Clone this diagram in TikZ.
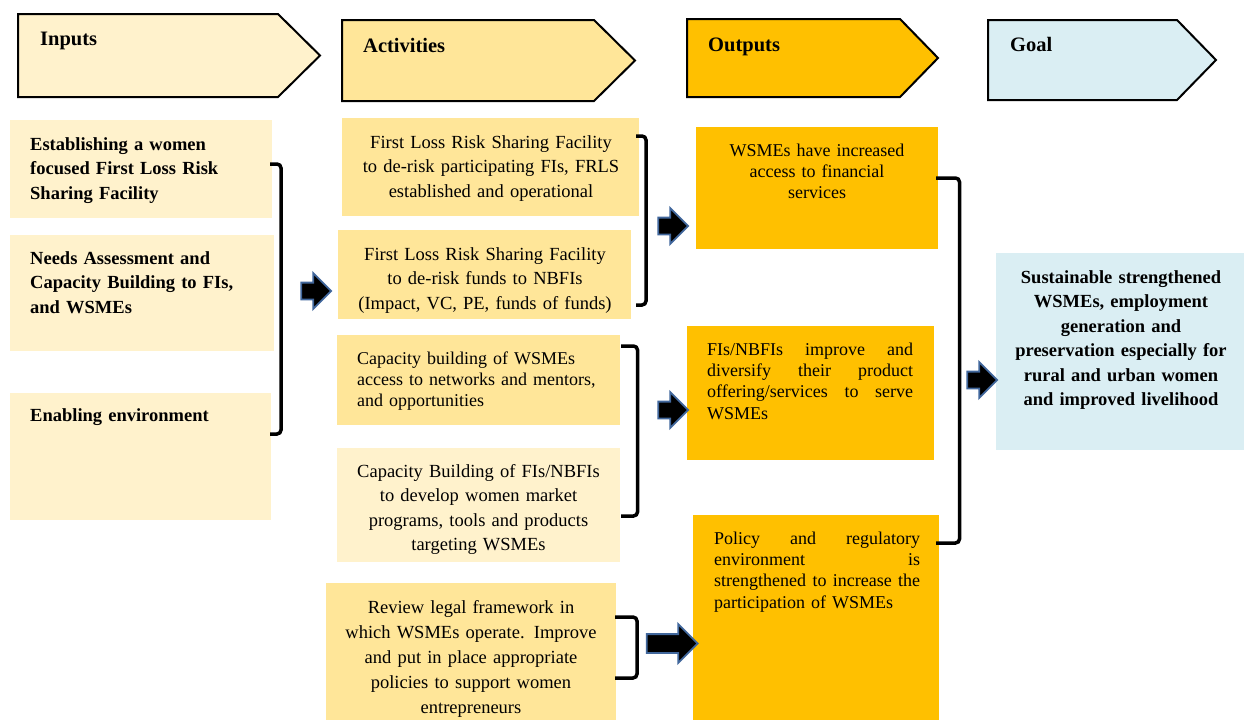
\documentclass[tikz,border=0pt]{standalone}
\usepackage{fontspec}
\setmainfont{Liberation Serif}
\usepackage{tikz}
\usetikzlibrary{shapes.arrows}

\definecolor{inputfill}{HTML}{FFF2CC}
\definecolor{actfill}{HTML}{FFE699}
\definecolor{outfill}{HTML}{FFC000}
\definecolor{goalfill}{HTML}{DAEEF3}
\definecolor{arrowedge}{HTML}{41679C}

\newcommand{\fullline}[1]{\leavevmode\hbox to 206pt{#1}}

\tikzset{
  header/.style={draw=black, line width=2pt, line join=miter},
  headtext/.style={anchor=base west, inner sep=0pt, font=\fontsize{20.5}{24}\selectfont\bfseries},
  box/.style={anchor=north west, inner sep=0pt, outer sep=0pt},
  boxtext/.style={inner sep=0pt, font=\fontsize{18.5}{24.5}\selectfont},
  boldtext/.style={inner sep=0pt, font=\fontsize{18.5}{24.5}\selectfont\bfseries},
  tighttext/.style={inner sep=0pt, font=\fontsize{18}{21.4}\selectfont},
  bracket/.style={line width=3.5pt, rounded corners=4pt},
  blockarrow/.style={single arrow, fill=black, draw=arrowedge, line width=1.8pt,
    inner xsep=0pt, inner ysep=7.5pt, single arrow head extend=9.5pt, minimum height=30pt}
}

\begin{document}
\begin{tikzpicture}[x=1pt,y=-1pt]
\useasboundingbox (0,0) rectangle (1244,720);

\draw[header, fill=inputfill] (18,14) -- (278,14) -- (320,55.5) -- (278,97) -- (18,97) -- cycle;
\draw[header, fill=actfill] (342,20) -- (594,20) -- (635,60.5) -- (594,101) -- (342,101) -- cycle;
\draw[header, fill=outfill] (687,19) -- (900,19) -- (938,58) -- (900,97) -- (687,97) -- cycle;
\draw[header, fill=goalfill] (988,20) -- (1177,20) -- (1216,60) -- (1177,100) -- (988,100) -- cycle;
\node[headtext] (hinputs) at (40,45) {Inputs};
\node[headtext] (hactivities) at (363,52) {Activities};
\node[headtext] (houtputs) at (708,51) {Outputs};
\node[headtext] (hgoal) at (1010,51) {Goal};

\node[box, fill=inputfill, minimum width=262pt, minimum height=98pt] (in1) at (10,120) {};
\node[box, fill=inputfill, minimum width=264pt, minimum height=116pt] (in2) at (10,235) {};
\node[box, fill=inputfill, minimum width=261pt, minimum height=127pt] (in3) at (10,393) {};
\node[boldtext, anchor=base west, text width=245pt, align=left] (in1t) at (30,150)
  {Establishing a women\\focused First Loss Risk\\Sharing Facility};
\node[boldtext, anchor=base west, text width=245pt, align=left] (in2t) at (30,264)
  {Needs Assessment and\\Capacity Building to FIs,\\and WSMEs};
\node[boldtext, anchor=base west, text width=245pt, align=left] (in3t) at (30,421)
  {Enabling environment};

\node[box, fill=actfill, minimum width=297pt, minimum height=98pt] (act1) at (342,118) {};
\node[box, fill=actfill, minimum width=293pt, minimum height=89pt] (act2) at (338,230) {};
\node[box, fill=actfill, minimum width=283pt, minimum height=90pt] (act3) at (337,335) {};
\node[box, fill=inputfill, minimum width=283pt, minimum height=114pt] (act4) at (337,448) {};
\node[box, fill=actfill, minimum width=290pt, minimum height=137pt] (act5) at (326,583) {};
\node[boxtext, anchor=base, text width=290pt, align=center] (act1t) at (491,148)
  {First Loss Risk Sharing Facility\\to de-risk participating FIs, FRLS\\established and operational};
\node[boxtext, anchor=base, text width=290pt, align=center] (act2t) at (485,260)
  {First Loss Risk Sharing Facility\\to de-risk funds to NBFIs\\(Impact, VC, PE, funds of funds)};
\node[tighttext, anchor=base west, text width=262pt, align=left] (act3t) at (357,364)
  {Capacity building of WSMEs\\access to networks and mentors,\\and opportunities};
\node[boxtext, anchor=base, text width=280pt, align=center] (act4t) at (478.5,477)
  {Capacity Building of FIs/NBFIs\\to develop women market\\programs, tools and products\\targeting WSMEs};
\node[boxtext, anchor=base, text width=288pt, align=center, font=\fontsize{18.5}{25}\selectfont] (act5t) at (471,613)
  {Review legal framework in\\which WSMEs operate. Improve\\and put in place appropriate\\policies to support women\\entrepreneurs};

\node[box, fill=outfill, minimum width=242pt, minimum height=122pt] (out1) at (696,127) {};
\node[box, fill=outfill, minimum width=247pt, minimum height=134pt] (out2) at (687,326) {};
\node[box, fill=outfill, minimum width=246pt, minimum height=205pt] (out3) at (693,515) {};
\node[tighttext, anchor=base, text width=240pt, align=center] (out1t) at (817,156)
  {WSMEs have increased\\access to financial\\services};
\node[tighttext, anchor=base west, text width=210pt, align=left] (out2t) at (707,355)
  {\fullline{FIs/NBFIs\hfill improve\hfill and}\\\fullline{diversify\hfill their\hfill product}\\\fullline{offering/services\hfill to\hfill serve}\\WSMEs};
\node[tighttext, anchor=base west, text width=210pt, align=left] (out3t) at (714,544)
  {\fullline{Policy\hfill and\hfill regulatory}\\\fullline{environment\hfill is}\\\fullline{strengthened\hfill to\hfill increase\hfill the}\\participation of WSMEs};

\node[box, fill=goalfill, minimum width=248pt, minimum height=197pt] (goal) at (996,253) {};
\node[boldtext, anchor=base, text width=244pt, align=center] (goalt) at (1121,283)
  {Sustainable strengthened\\WSMEs, employment\\generation and\\preservation especially for\\rural and urban women\\and improved livelihood};

\coordinate (b1top) at (270,164); \coordinate (b1bot) at (270,434);
\coordinate (b2top) at (636,136); \coordinate (b2bot) at (636,305);
\coordinate (b3top) at (621,346); \coordinate (b3bot) at (621,516);
\coordinate (b4top) at (615,617); \coordinate (b4bot) at (615,678);
\coordinate (b5top) at (936,178); \coordinate (b5bot) at (936,543);
\draw[bracket] (b1top) -- ++(11,0) |- (b1bot);
\draw[bracket] (b2top) -- ++(10,0) |- (b2bot);
\draw[bracket] (b3top) -- ++(16.5,0) |- (b3bot);
\draw[bracket] (b4top) -- ++(22,0) |- (b4bot);
\draw[bracket] (b5top) -- ++(23.5,0) |- (b5bot);

\node[blockarrow] (arr1) at (312,291) {};
\node[blockarrow] (arr2) at (669,226) {};
\node[blockarrow] (arr3) at (669,410) {};
\node[blockarrow, minimum height=51pt, inner ysep=8.5pt, single arrow head extend=10pt] (arr4) at (667.5,643.5) {};
\node[blockarrow] (arr5) at (978,380) {};
\end{tikzpicture}
\end{document}
